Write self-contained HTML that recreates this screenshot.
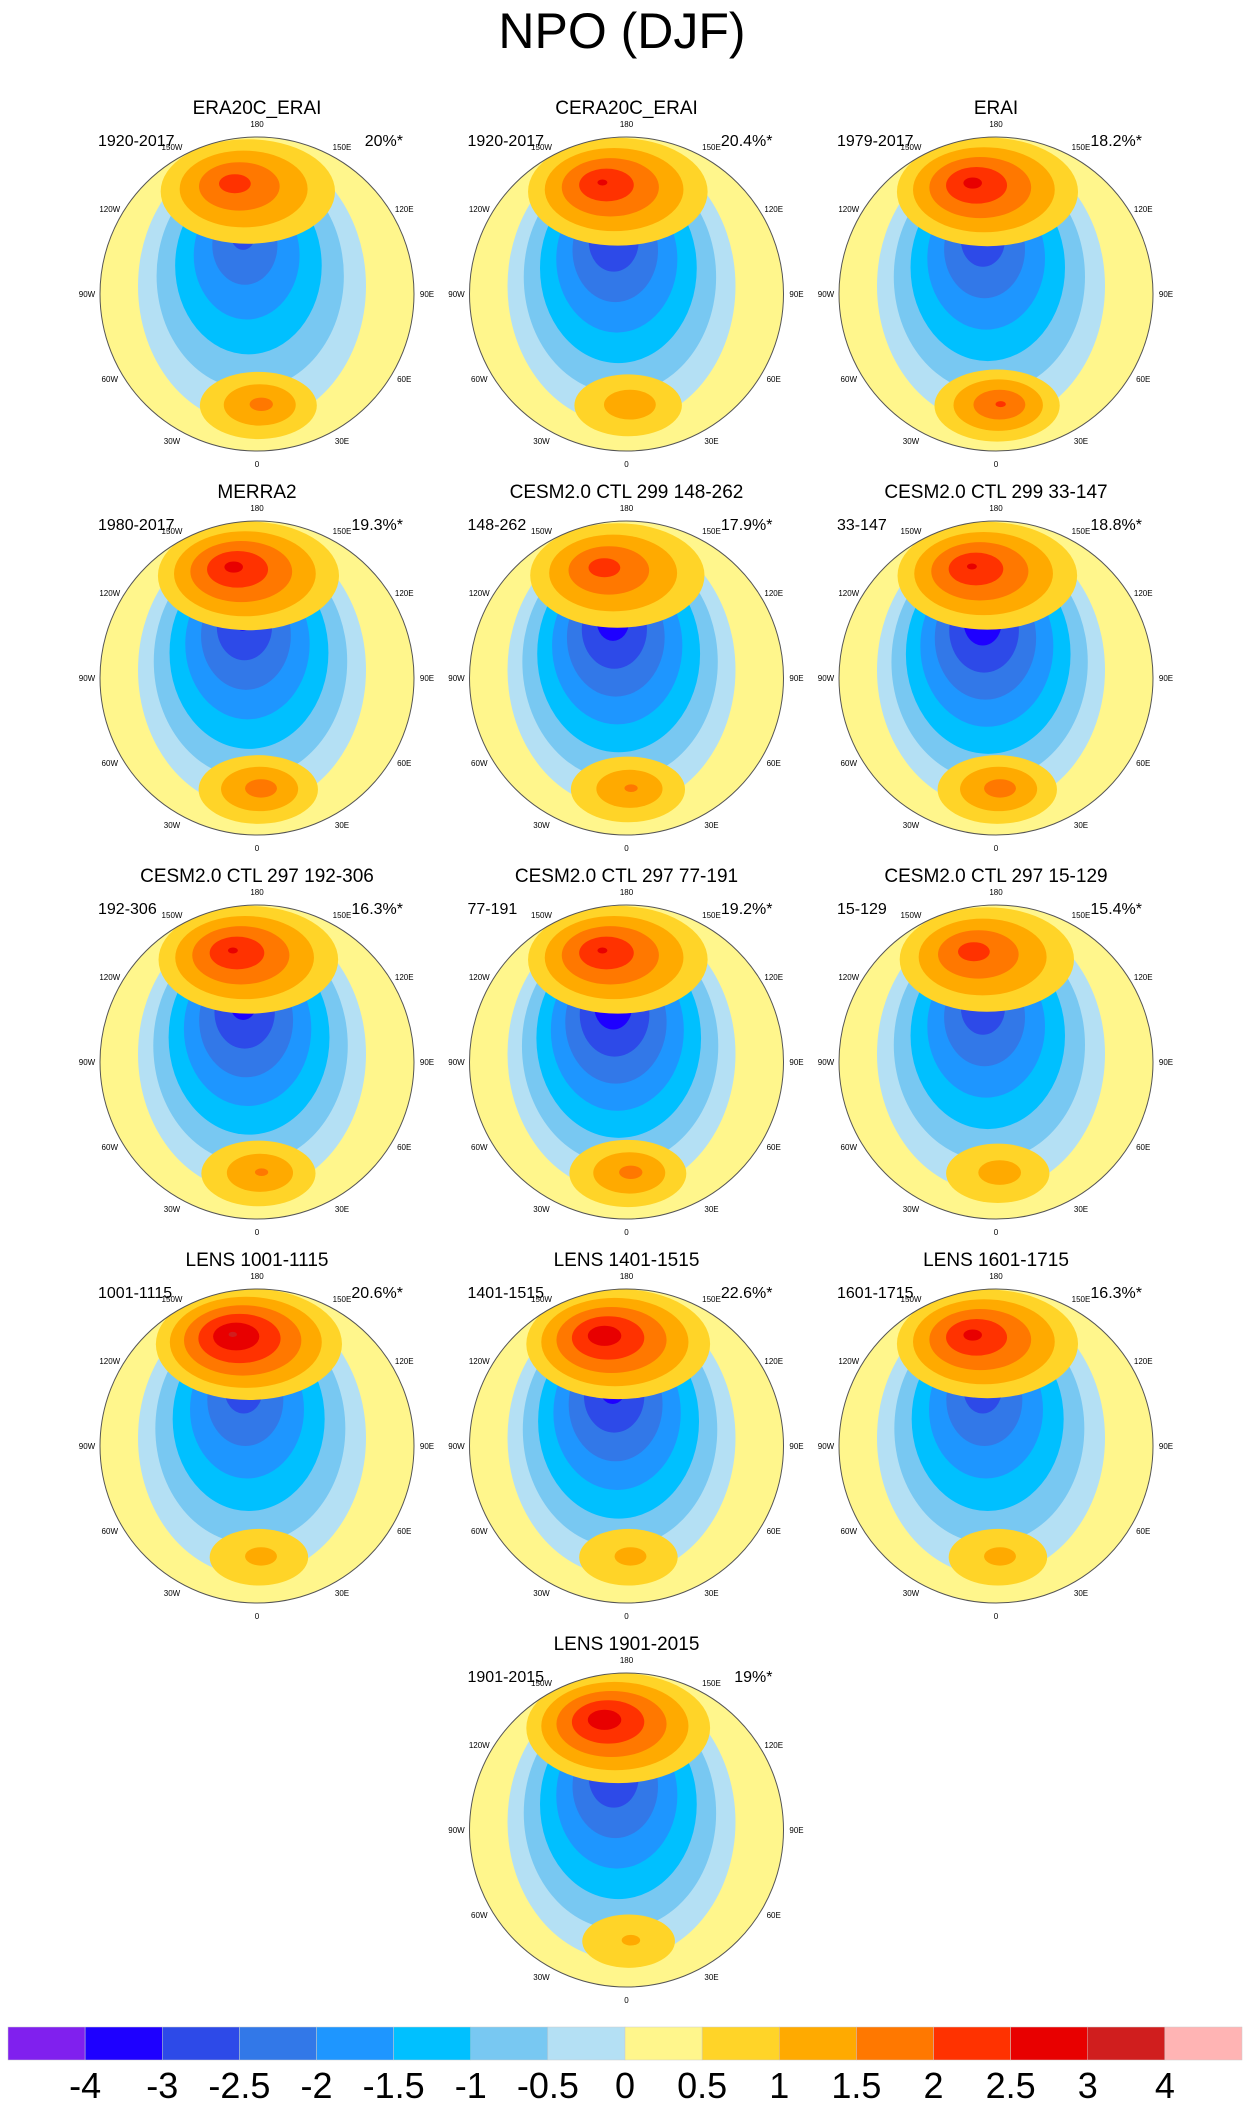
<!DOCTYPE html>
<html><head><meta charset="utf-8"><style>
body{margin:0;background:#fff;width:1244px;height:2107px;overflow:hidden;font-family:"Liberation Sans",sans-serif;}
#title{position:absolute;left:0;width:1244px;top:2px;text-align:center;font-size:50px;}
svg{position:absolute;left:0;top:0;}
</style></head><body>
<div id="title">NPO (DJF)</div>
<svg id="fig" width="1244" height="2107"></svg>
<script>
const titles=["ERA20C_ERAI","CERA20C_ERAI","ERAI","MERRA2","CESM2.0 CTL 299 148-262","CESM2.0 CTL 299 33-147","CESM2.0 CTL 297 192-306","CESM2.0 CTL 297 77-191","CESM2.0 CTL 297 15-129","LENS 1001-1115","LENS 1401-1515","LENS 1601-1715","LENS 1901-2015"];
const years=["1920-2017","1920-2017","1979-2017","1980-2017","148-262","33-147","192-306","77-191","15-129","1001-1115","1401-1515","1601-1715","1901-2015"];
const pcts=["20%*","20.4%*","18.2%*","19.3%*","17.9%*","18.8%*","16.3%*","19.2%*","15.4%*","20.6%*","22.6%*","16.3%*","19%*"];
const highAmp=[2.3,2.6,2.7,2.7,2.3,2.6,2.6,2.6,2.3,3.1,2.9,2.7,2.9];
const lowAmp=[-2.8,-3.2,-3.1,-3.3,-3.5,-3.6,-3.4,-3.6,-3.1,-3.0,-3.4,-3.0,-3.2];
const atlAmp=[1.7,1.4,2.1,1.8,1.6,1.8,1.6,1.7,1.3,1.2,1.2,1.2,1.1];
const levels=[-4,-3,-2.5,-2,-1.5,-1,-0.5,0,0.5,1,1.5,2,2.5,3,4];
const colors=["#8020ee","#1e00ff","#2d4ae8","#3278e8","#1e96ff","#00c0ff","#78c8f2","#b4e0f4","#fff68c","#ffd428","#ffaa00","#ff7800","#ff3200","#e80000","#d01e1e","#ffb4b4"];
const lonLabels=["180","150E","120E","90E","60E","30E","0","30W","60W","90W","120W","150W"];
const NS="http://www.w3.org/2000/svg";
const svg=document.getElementById('fig');
function mk(t,a,p){const e=document.createElementNS(NS,t);for(const k in a)e.setAttribute(k,a[k]);(p||svg).appendChild(e);return e;}
function colorFor(v){let i=0;while(i<levels.length&&v>=levels[i])i++;return colors[i];}
const R=157;
function drawCenter(g,cx,cy,A,sh,idx){
  const sgn=A>0?1:-1;
  const lv=levels.filter(l=>(sgn<0?l<=0:l>0)&&Math.abs(l)<Math.abs(A)).sort((a,b)=>Math.abs(a)-Math.abs(b));
  lv.forEach(L=>{
    const f=Math.pow(1-L/A,sh.p);
    const ex=cx+sh.kx+(sh.ox-sh.kx)*f, ey=cy+sh.ky+(sh.oy-sh.ky)*f;
    const e=mk('ellipse',{cx:ex,cy:ey,rx:sh.rx*f,ry:sh.ry*f,fill:colorFor(L+(sgn>0?0.001:-0.001))},g);
    
    
  });
}
const lowShape={ox:-5,oy:-8,kx:-15,ky:-65,rx:114,ry:138,p:1.0};
const highShape={ox:-5,oy:-100,kx:-25,ky:-112,rx:110,ry:66,p:0.95};
const atlShape={ox:0,oy:112,kx:5,ky:110,rx:80,ry:46,p:0.9};
titles.forEach((t,i)=>{
  const row=Math.floor(i/3), col=i<12?i%3:1;
  const cx=257+col*369.5, cy=294+row*384;
  const g=mk('g',{});
  
  
  const cp=mk('clipPath',{id:'c'+i},g);mk('circle',{cx:cx,cy:cy,r:R},cp);
  const f=mk('g',{'clip-path':'url(#c'+i+')'},g);
  mk('rect',{x:cx-R,y:cy-R,width:2*R,height:2*R,fill:colors[8]},f);
  drawCenter(f,cx,cy,lowAmp[i],lowShape,i);
  drawCenter(f,cx,cy,highAmp[i],highShape,i);
  drawCenter(f,cx,cy,atlAmp[i],atlShape,i);
  const o=mk('circle',{cx:cx,cy:cy,r:R,fill:'none',stroke:'#555','stroke-width':1},g);
  
  const tt=mk('text',{x:cx,y:cy-180,'text-anchor':'middle','font-size':19,fill:'#000'},g);tt.textContent=t;
  
  const y=mk('text',{x:cx-159,y:cy-148,'font-size':16},g);y.textContent=years[i];
  
  const p=mk('text',{x:cx+146,y:cy-148,'font-size':16,'text-anchor':'end'},g);p.textContent=pcts[i];
  
  lonLabels.forEach((l,j)=>{
    const a=j*30*Math.PI/180, rr=R+13;
    const lx=cx+rr*Math.sin(a), ly=cy-rr*Math.cos(a)+3;
    const tx=mk('text',{x:lx,y:ly,'font-size':8,'text-anchor':'middle',fill:'#000'},g);tx.textContent=l;
    
  });
});
const cb=mk('g',{});

const bx=8,bw=(1242-8)/colors.length;
colors.forEach((c,i)=>{
  const r=mk('rect',{x:bx+i*bw,y:2027,width:bw,height:33,fill:c,stroke:'#ccc','stroke-width':0.5},cb);
  
});
levels.forEach((l,i)=>{
  const t=mk('text',{x:bx+(i+1)*bw,y:2098,'font-size':36,'text-anchor':'middle'},cb);t.textContent=l;
  
});
</script>
</body></html>
